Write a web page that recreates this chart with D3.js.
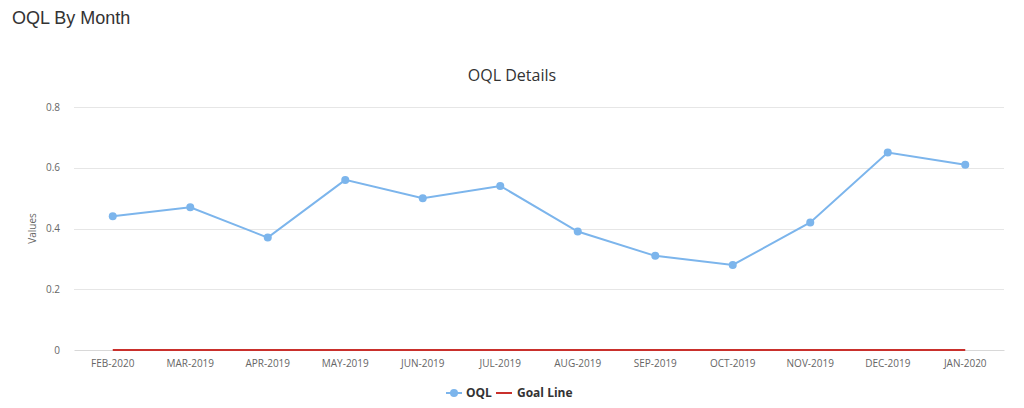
<!DOCTYPE html>
<html><head><meta charset="utf-8">
<script src="https://cdnjs.cloudflare.com/ajax/libs/d3/7.8.5/d3.min.js"></script>
<style>body{margin:0;background:#fff;}svg{display:block;}</style>
</head><body>
<svg id="chart" width="1024" height="408"></svg>
<script>
const categories = ["FEB-2020","MAR-2019","APR-2019","MAY-2019","JUN-2019","JUL-2019","AUG-2019","SEP-2019","OCT-2019","NOV-2019","DEC-2019","JAN-2020"];
const oqlValues = [0.44,0.47,0.37,0.56,0.50,0.54,0.39,0.31,0.28,0.42,0.65,0.61];
const goalValues = [0,0,0,0,0,0,0,0,0,0,0,0];
const yTicks = [0,0.2,0.4,0.6,0.8];
const seriesNames = ["OQL","Goal Line"];

const svg = d3.select("#chart");
const font = "'Open Sans', 'DejaVu Sans', sans-serif";
const plotL = 74, plotR = 1004, plotT = 107, plotB = 350;

const x = d3.scaleBand().domain(categories).range([plotL, plotR]);
const y = d3.scaleLinear().domain([0, 0.8]).range([plotB, plotT]);
const cx = d => x(d) + x.bandwidth()/2;

svg.append("text").attr("x", 12).attr("y", 24).text("OQL By Month")
  .attr("font-family", "'Liberation Sans', Arial, sans-serif").attr("font-size", 18).attr("fill", "#333");

svg.append("text").attr("x", 512).attr("y", 81).attr("text-anchor", "middle").text("OQL Details")
  .attr("font-family", font).attr("font-size", 16).attr("fill", "#333");

// gridlines
svg.append("g").selectAll("line").data(yTicks.filter(t => t > 0)).join("line")
  .attr("x1", plotL).attr("x2", plotR).attr("y1", d => Math.round(y(d)) + 0.5).attr("y2", d => Math.round(y(d)) + 0.5)
  .attr("stroke", "#e6e6e6").attr("stroke-width", 1);

// y axis
const yAxis = d3.axisLeft(y).tickValues(yTicks).tickSize(0).tickPadding(0).tickFormat(d => d === 0 ? "0" : d3.format(".1f")(d));
const gy = svg.append("g").attr("transform", `translate(${plotL - 14},0)`).call(yAxis);
gy.select(".domain").remove();
gy.selectAll("text").attr("font-family", font).attr("font-size", 10).attr("fill", "#666");

svg.append("text").attr("transform", `translate(36,${(plotT+plotB)/2}) rotate(-90)`).attr("text-anchor", "middle")
  .text("Values").attr("font-family", font).attr("font-size", 10).attr("fill", "#666");

// x axis
const xAxis = d3.axisBottom(x).tickSize(0).tickPadding(10);
const gx = svg.append("g").attr("transform", `translate(0,${plotB})`).call(xAxis);
gx.select(".domain").attr("stroke", "#d8d8d8");
gx.selectAll("text").attr("font-family", font).attr("font-size", 10).attr("fill", "#666");

// goal line
const line = d3.line().x((d,i) => cx(categories[i])).y(d => y(d));
svg.append("path").datum(goalValues).attr("d", line).attr("fill", "none")
  .attr("stroke", "#c9302c").attr("stroke-width", 2);

// OQL line
svg.append("path").datum(oqlValues).attr("d", line).attr("fill", "none")
  .attr("stroke", "#7cb5ec").attr("stroke-width", 2);
svg.append("g").selectAll("circle").data(oqlValues).join("circle")
  .attr("cx", (d,i) => cx(categories[i])).attr("cy", d => y(d)).attr("r", 4).attr("fill", "#7cb5ec");

// legend
const lg = svg.append("g").attr("font-family", font).attr("font-size", 12).attr("font-weight", "bold").attr("fill", "#333");
lg.append("line").attr("x1", 446).attr("x2", 462).attr("y1", 393).attr("y2", 393).attr("stroke", "#7cb5ec").attr("stroke-width", 2);
lg.append("circle").attr("cx", 454).attr("cy", 393).attr("r", 4).attr("fill", "#7cb5ec");
lg.append("text").attr("x", 466).attr("y", 397).text(seriesNames[0]);
lg.append("line").attr("x1", 496).attr("x2", 512).attr("y1", 393).attr("y2", 393).attr("stroke", "#c9302c").attr("stroke-width", 2);
lg.append("text").attr("x", 517).attr("y", 397).text(seriesNames[1]);
</script>
</body></html>
